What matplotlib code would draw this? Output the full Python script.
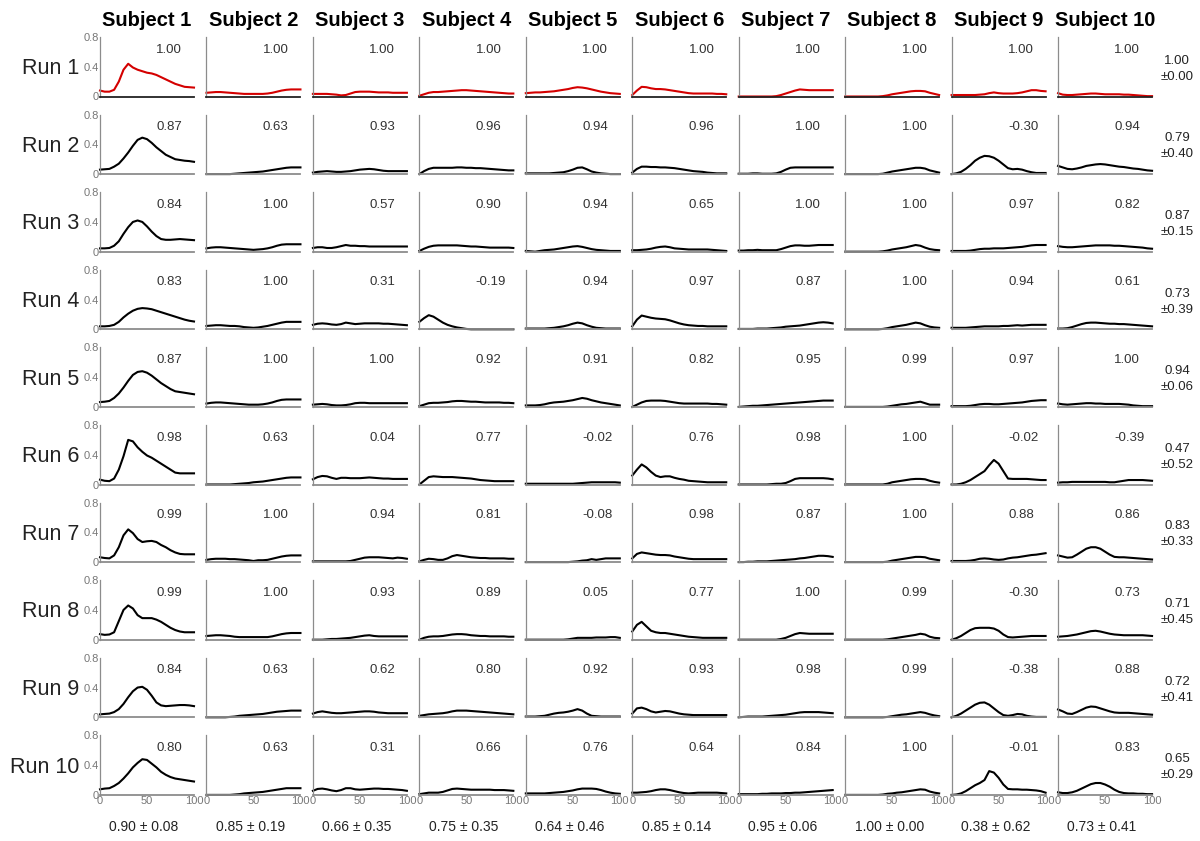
import numpy as np
import matplotlib
matplotlib.use("Agg")
import matplotlib.pyplot as plt

plt.rcParams["font.family"] = ["Liberation Sans", "DejaVu Sans"]

subjects = [f"Subject {i}" for i in range(1, 11)]
runs = [f"Run {i}" for i in range(1, 11)]
x = np.arange(0, 101, 5)

# curves[run][subject], sampled every 5 % of the cycle
curves = [
    # Run 1
    [
        [0.08,0.065,0.065,0.09,0.2,0.36,0.44,0.39,0.36,0.34,0.32,0.31,0.29,0.26,0.23,0.2,0.17,0.15,0.13,0.125,0.12],
        [0.05,0.055,0.06,0.06,0.055,0.05,0.045,0.04,0.035,0.035,0.035,0.035,0.035,0.04,0.05,0.065,0.08,0.09,0.095,0.095,0.095],
        [0.035,0.035,0.035,0.035,0.03,0.025,0.015,0.02,0.04,0.06,0.065,0.065,0.065,0.06,0.055,0.055,0.055,0.05,0.05,0.05,0.05],
        [0.01,0.03,0.05,0.06,0.06,0.065,0.07,0.075,0.08,0.085,0.085,0.08,0.075,0.07,0.065,0.06,0.055,0.05,0.045,0.04,0.04],
        [0.045,0.05,0.055,0.055,0.06,0.065,0.07,0.08,0.09,0.1,0.115,0.125,0.12,0.11,0.095,0.08,0.065,0.055,0.045,0.04,0.035],
        [0.02,0.08,0.13,0.125,0.11,0.1,0.1,0.095,0.085,0.075,0.065,0.055,0.045,0.04,0.04,0.04,0.04,0.04,0.035,0.035,0.03],
        [0.0,0.0,0.0,0.0,0.0,0.0,0.0,0.0,0.005,0.02,0.04,0.06,0.08,0.095,0.09,0.085,0.085,0.085,0.085,0.085,0.085],
        [0,0,0,0,0,0,0,0,0.005,0.015,0.03,0.04,0.05,0.06,0.07,0.075,0.075,0.07,0.05,0.035,0.02],
        [0.02,0.02,0.02,0.02,0.02,0.02,0.025,0.03,0.045,0.055,0.045,0.04,0.04,0.04,0.045,0.055,0.07,0.085,0.085,0.075,0.07],
        [0.045,0.025,0.02,0.02,0.025,0.03,0.035,0.04,0.04,0.035,0.03,0.03,0.03,0.03,0.025,0.025,0.02,0.015,0.01,0.005,0.005],
    ],
    # Run 2
    [
        [0.06,0.065,0.07,0.1,0.14,0.21,0.29,0.38,0.46,0.49,0.47,0.42,0.36,0.31,0.26,0.23,0.2,0.19,0.18,0.175,0.165],
        [0,0,0,0,0,0,0.005,0.01,0.015,0.02,0.025,0.03,0.035,0.045,0.055,0.065,0.075,0.085,0.09,0.09,0.09],
        [0.02,0.03,0.035,0.04,0.035,0.03,0.03,0.035,0.04,0.05,0.06,0.065,0.07,0.065,0.055,0.045,0.04,0.04,0.04,0.04,0.04],
        [0.0,0.04,0.07,0.085,0.085,0.085,0.085,0.085,0.09,0.09,0.085,0.085,0.08,0.08,0.075,0.07,0.065,0.06,0.055,0.05,0.05],
        [0.01,0.01,0.01,0.01,0.01,0.01,0.015,0.02,0.025,0.04,0.06,0.085,0.09,0.065,0.035,0.02,0.01,0.005,0.0,0.0,0.0],
        [0.02,0.07,0.1,0.1,0.095,0.095,0.09,0.09,0.085,0.08,0.07,0.06,0.05,0.04,0.035,0.03,0.02,0.015,0.01,0.01,0.01],
        [0.005,0.005,0.005,0.01,0.01,0.005,0.005,0.005,0.01,0.03,0.06,0.085,0.09,0.09,0.09,0.09,0.09,0.09,0.09,0.09,0.09],
        [0,0,0,0,0,0,0,0,0.005,0.02,0.035,0.045,0.055,0.065,0.075,0.085,0.085,0.075,0.05,0.035,0.02],
        [0.0,0.01,0.03,0.07,0.12,0.18,0.22,0.245,0.24,0.22,0.18,0.13,0.08,0.065,0.07,0.06,0.04,0.025,0.015,0.015,0.015],
        [0.11,0.09,0.07,0.065,0.075,0.09,0.11,0.12,0.13,0.135,0.13,0.12,0.11,0.1,0.095,0.085,0.075,0.07,0.06,0.05,0.045],
    ],
    # Run 3
    [
        [0.045,0.045,0.05,0.08,0.14,0.24,0.33,0.4,0.42,0.4,0.34,0.27,0.21,0.17,0.16,0.16,0.165,0.17,0.165,0.16,0.155],
        [0.045,0.055,0.06,0.06,0.055,0.05,0.045,0.04,0.035,0.03,0.025,0.03,0.035,0.045,0.06,0.08,0.095,0.1,0.1,0.1,0.1],
        [0.05,0.06,0.06,0.05,0.05,0.06,0.075,0.09,0.08,0.08,0.075,0.075,0.07,0.07,0.07,0.07,0.07,0.07,0.07,0.07,0.07],
        [0.01,0.04,0.065,0.08,0.085,0.085,0.085,0.085,0.085,0.08,0.075,0.07,0.07,0.065,0.06,0.055,0.055,0.055,0.055,0.055,0.05],
        [0.01,0.005,0.0,0.01,0.02,0.025,0.03,0.04,0.05,0.06,0.07,0.075,0.065,0.05,0.035,0.025,0.02,0.015,0.01,0.01,0.01],
        [0.02,0.02,0.025,0.03,0.04,0.055,0.065,0.07,0.06,0.045,0.04,0.035,0.03,0.03,0.03,0.03,0.03,0.025,0.02,0.015,0.01],
        [0.015,0.015,0.02,0.02,0.025,0.02,0.02,0.02,0.02,0.035,0.055,0.075,0.085,0.085,0.08,0.08,0.085,0.09,0.09,0.09,0.09],
        [0,0,0,0,0,0,0,0,0.005,0.015,0.03,0.04,0.05,0.06,0.075,0.09,0.08,0.055,0.035,0.025,0.02],
        [0.01,0.01,0.01,0.01,0.015,0.025,0.035,0.04,0.04,0.045,0.045,0.045,0.05,0.055,0.06,0.065,0.075,0.085,0.09,0.09,0.09],
        [0.075,0.065,0.06,0.06,0.065,0.07,0.075,0.08,0.085,0.085,0.085,0.085,0.08,0.08,0.075,0.07,0.065,0.06,0.055,0.045,0.04],
    ],
    # Run 4
    [
        [0.04,0.04,0.045,0.06,0.1,0.16,0.21,0.25,0.275,0.285,0.28,0.27,0.25,0.23,0.21,0.19,0.17,0.15,0.13,0.115,0.105],
        [0.045,0.05,0.055,0.055,0.05,0.045,0.045,0.04,0.03,0.025,0.02,0.025,0.035,0.045,0.06,0.075,0.09,0.1,0.1,0.1,0.1],
        [0.06,0.075,0.08,0.075,0.065,0.06,0.07,0.09,0.08,0.07,0.075,0.08,0.08,0.08,0.08,0.075,0.075,0.07,0.065,0.06,0.055],
        [0.1,0.15,0.19,0.17,0.13,0.09,0.06,0.04,0.025,0.015,0.005,0.0,0.0,0.0,0.0,0.0,0.0,0.0,0.0,0.0,0.0],
        [0.01,0.01,0.01,0.01,0.01,0.015,0.02,0.03,0.04,0.055,0.075,0.09,0.08,0.055,0.035,0.02,0.015,0.01,0.01,0.01,0.01],
        [0.04,0.13,0.185,0.17,0.155,0.145,0.14,0.135,0.12,0.1,0.08,0.065,0.055,0.05,0.045,0.045,0.04,0.04,0.04,0.04,0.04],
        [0.005,0.005,0.005,0.005,0.01,0.01,0.01,0.015,0.02,0.025,0.035,0.04,0.045,0.05,0.06,0.07,0.08,0.09,0.095,0.09,0.08],
        [0,0,0,0,0,0,0,0,0.005,0.015,0.03,0.04,0.05,0.06,0.075,0.09,0.08,0.055,0.035,0.025,0.02],
        [0.02,0.02,0.02,0.02,0.025,0.03,0.035,0.04,0.04,0.04,0.04,0.045,0.045,0.05,0.055,0.05,0.055,0.06,0.06,0.06,0.06],
        [0.01,0.01,0.015,0.03,0.05,0.07,0.085,0.09,0.09,0.085,0.08,0.075,0.075,0.07,0.07,0.065,0.06,0.055,0.05,0.045,0.04],
    ],
    # Run 5
    [
        [0.065,0.07,0.08,0.12,0.18,0.26,0.35,0.43,0.47,0.48,0.46,0.42,0.37,0.32,0.28,0.24,0.21,0.2,0.19,0.18,0.17],
        [0.045,0.055,0.06,0.06,0.055,0.05,0.045,0.04,0.035,0.03,0.03,0.03,0.035,0.045,0.06,0.08,0.095,0.1,0.1,0.1,0.1],
        [0.03,0.035,0.04,0.035,0.025,0.02,0.02,0.025,0.035,0.05,0.055,0.055,0.05,0.05,0.05,0.05,0.05,0.05,0.05,0.05,0.05],
        [0.01,0.03,0.05,0.055,0.055,0.06,0.065,0.075,0.08,0.08,0.075,0.07,0.07,0.065,0.06,0.06,0.06,0.06,0.055,0.055,0.05],
        [0.02,0.02,0.02,0.025,0.035,0.05,0.06,0.065,0.07,0.08,0.09,0.105,0.12,0.11,0.09,0.075,0.06,0.05,0.04,0.03,0.02],
        [0.0,0.03,0.06,0.08,0.085,0.085,0.085,0.08,0.07,0.06,0.05,0.045,0.045,0.045,0.045,0.045,0.045,0.04,0.04,0.035,0.03],
        [0.0,0.005,0.01,0.015,0.015,0.02,0.025,0.03,0.035,0.04,0.045,0.05,0.055,0.06,0.065,0.07,0.075,0.08,0.085,0.085,0.085],
        [0,0,0,0,0,0,0,0,0,0.005,0.015,0.025,0.035,0.04,0.05,0.06,0.07,0.05,0.03,0.03,0.03],
        [0.01,0.01,0.01,0.01,0.015,0.025,0.035,0.04,0.04,0.035,0.035,0.04,0.045,0.05,0.055,0.06,0.07,0.08,0.085,0.09,0.09],
        [0.045,0.035,0.03,0.035,0.04,0.045,0.05,0.05,0.045,0.045,0.04,0.04,0.04,0.04,0.035,0.03,0.02,0.015,0.01,0.01,0.01],
    ],
    # Run 6
    [
        [0.065,0.05,0.045,0.08,0.2,0.38,0.6,0.58,0.5,0.44,0.39,0.36,0.32,0.28,0.24,0.2,0.16,0.15,0.15,0.15,0.15],
        [0,0,0,0,0,0,0.005,0.01,0.015,0.02,0.03,0.035,0.04,0.05,0.06,0.07,0.08,0.09,0.095,0.095,0.095],
        [0.07,0.1,0.115,0.11,0.09,0.075,0.09,0.09,0.085,0.085,0.085,0.09,0.095,0.09,0.085,0.08,0.08,0.075,0.075,0.075,0.075],
        [0.0,0.05,0.1,0.11,0.105,0.1,0.1,0.1,0.095,0.09,0.085,0.08,0.07,0.06,0.055,0.05,0.045,0.045,0.045,0.045,0.045],
        [0.01,0.01,0.01,0.01,0.01,0.01,0.01,0.01,0.01,0.01,0.01,0.015,0.02,0.025,0.03,0.03,0.03,0.03,0.03,0.03,0.025],
        [0.12,0.2,0.27,0.23,0.17,0.12,0.1,0.11,0.11,0.09,0.075,0.065,0.05,0.045,0.04,0.035,0.03,0.03,0.03,0.03,0.03],
        [0,0,0,0,0,0,0,0.005,0.01,0.01,0.02,0.045,0.075,0.085,0.085,0.085,0.085,0.085,0.085,0.08,0.07],
        [0,0,0,0,0,0,0,0,0,0.01,0.03,0.04,0.05,0.06,0.07,0.075,0.075,0.07,0.05,0.035,0.025],
        [0.0,0.0,0.01,0.03,0.06,0.1,0.14,0.18,0.26,0.33,0.28,0.18,0.08,0.075,0.075,0.075,0.075,0.07,0.065,0.06,0.06],
        [0.025,0.03,0.03,0.035,0.035,0.035,0.035,0.035,0.035,0.035,0.035,0.03,0.03,0.04,0.05,0.06,0.06,0.06,0.06,0.055,0.05],
    ],
    # Run 7
    [
        [0.065,0.055,0.05,0.09,0.2,0.36,0.44,0.39,0.31,0.27,0.28,0.285,0.27,0.23,0.2,0.16,0.13,0.11,0.105,0.105,0.105],
        [0.03,0.04,0.045,0.045,0.045,0.04,0.04,0.035,0.03,0.025,0.015,0.025,0.025,0.03,0.045,0.06,0.075,0.085,0.09,0.09,0.09],
        [0.01,0.01,0.01,0.01,0.01,0.01,0.01,0.01,0.015,0.03,0.045,0.06,0.065,0.065,0.065,0.06,0.055,0.05,0.06,0.055,0.045],
        [0.01,0.03,0.045,0.04,0.03,0.03,0.05,0.08,0.095,0.085,0.075,0.065,0.06,0.055,0.055,0.05,0.05,0.05,0.05,0.045,0.045],
        [0,0,0,0,0,0,0,0,0,0,0.005,0.01,0.02,0.025,0.04,0.03,0.04,0.05,0.05,0.05,0.05],
        [0.05,0.11,0.13,0.12,0.11,0.1,0.095,0.095,0.09,0.075,0.065,0.055,0.045,0.04,0.04,0.04,0.04,0.04,0.04,0.04,0.04],
        [0.0,0.0,0.005,0.005,0.01,0.01,0.01,0.015,0.02,0.025,0.03,0.035,0.04,0.05,0.055,0.065,0.075,0.085,0.085,0.08,0.07],
        [0,0,0,0,0,0,0,0,0,0.005,0.02,0.03,0.04,0.05,0.06,0.07,0.07,0.065,0.045,0.035,0.025],
        [0.015,0.015,0.015,0.015,0.02,0.03,0.045,0.05,0.045,0.035,0.03,0.035,0.05,0.06,0.065,0.075,0.085,0.095,0.1,0.11,0.12],
        [0.09,0.075,0.06,0.065,0.1,0.14,0.18,0.2,0.2,0.18,0.14,0.1,0.07,0.065,0.065,0.06,0.055,0.05,0.045,0.04,0.035],
    ],
    # Run 8
    [
        [0.075,0.065,0.07,0.1,0.25,0.4,0.46,0.42,0.33,0.29,0.29,0.29,0.27,0.24,0.2,0.16,0.13,0.11,0.1,0.1,0.1],
        [0.05,0.055,0.06,0.06,0.055,0.05,0.04,0.035,0.035,0.035,0.035,0.035,0.035,0.035,0.045,0.06,0.075,0.085,0.09,0.09,0.09],
        [0.0,0.0,0.0,0.005,0.01,0.01,0.015,0.02,0.025,0.035,0.045,0.055,0.06,0.05,0.045,0.045,0.045,0.045,0.045,0.045,0.045],
        [0.0,0.025,0.04,0.045,0.045,0.05,0.06,0.07,0.075,0.075,0.07,0.06,0.055,0.05,0.05,0.045,0.045,0.045,0.045,0.04,0.04],
        [0,0,0,0,0,0,0,0,0,0.005,0.015,0.025,0.025,0.025,0.025,0.03,0.03,0.03,0.035,0.035,0.025],
        [0.11,0.2,0.24,0.18,0.12,0.1,0.09,0.09,0.08,0.07,0.06,0.05,0.04,0.035,0.03,0.025,0.025,0.025,0.025,0.025,0.025],
        [0,0,0,0,0,0,0,0,0,0.01,0.025,0.05,0.075,0.09,0.085,0.08,0.08,0.08,0.08,0.08,0.08],
        [0,0,0,0,0,0,0,0,0,0.005,0.015,0.025,0.035,0.045,0.055,0.065,0.08,0.07,0.04,0.025,0.02],
        [0.0,0.02,0.05,0.09,0.13,0.155,0.16,0.16,0.16,0.15,0.12,0.07,0.035,0.03,0.035,0.04,0.045,0.05,0.05,0.05,0.05],
        [0.04,0.045,0.05,0.06,0.07,0.085,0.1,0.115,0.12,0.11,0.095,0.08,0.07,0.065,0.06,0.06,0.06,0.06,0.06,0.055,0.05],
    ],
    # Run 9
    [
        [0.04,0.045,0.05,0.07,0.11,0.18,0.27,0.35,0.4,0.41,0.37,0.29,0.2,0.16,0.15,0.155,0.16,0.165,0.165,0.16,0.15],
        [0,0,0,0,0,0.005,0.01,0.02,0.025,0.03,0.035,0.04,0.045,0.055,0.065,0.075,0.08,0.085,0.09,0.09,0.09],
        [0.05,0.07,0.08,0.07,0.06,0.055,0.055,0.06,0.065,0.07,0.075,0.08,0.08,0.075,0.065,0.06,0.055,0.055,0.055,0.055,0.055],
        [0.02,0.03,0.04,0.045,0.05,0.055,0.065,0.08,0.09,0.09,0.09,0.085,0.08,0.075,0.07,0.065,0.06,0.055,0.05,0.045,0.04],
        [0.01,0.01,0.01,0.015,0.02,0.035,0.05,0.06,0.065,0.075,0.09,0.11,0.09,0.05,0.02,0.015,0.01,0.01,0.01,0.01,0.01],
        [0.05,0.12,0.13,0.11,0.08,0.065,0.075,0.085,0.08,0.065,0.05,0.04,0.035,0.03,0.03,0.03,0.03,0.03,0.03,0.03,0.03],
        [0.0,0.005,0.01,0.01,0.01,0.01,0.015,0.02,0.025,0.03,0.035,0.045,0.055,0.065,0.07,0.07,0.07,0.07,0.065,0.06,0.055],
        [0,0,0,0,0,0,0,0,0,0.005,0.015,0.025,0.035,0.04,0.05,0.06,0.07,0.06,0.04,0.025,0.015],
        [0.0,0.02,0.05,0.09,0.13,0.17,0.195,0.2,0.17,0.12,0.07,0.03,0.02,0.03,0.045,0.04,0.02,0.01,0.005,0.005,0.005],
        [0.105,0.08,0.05,0.045,0.07,0.1,0.13,0.145,0.14,0.12,0.1,0.08,0.065,0.06,0.06,0.06,0.055,0.05,0.045,0.04,0.035],
    ],
    # Run 10
    [
        [0.075,0.085,0.09,0.12,0.16,0.22,0.29,0.37,0.43,0.48,0.47,0.42,0.37,0.31,0.27,0.24,0.22,0.21,0.2,0.19,0.18],
        [0,0,0,0,0,0,0.005,0.01,0.02,0.025,0.03,0.035,0.04,0.05,0.06,0.07,0.08,0.09,0.09,0.09,0.09],
        [0.055,0.08,0.085,0.075,0.06,0.05,0.065,0.09,0.09,0.075,0.07,0.075,0.08,0.085,0.085,0.08,0.08,0.075,0.07,0.065,0.055],
        [0.01,0.02,0.03,0.03,0.03,0.04,0.06,0.08,0.085,0.08,0.075,0.07,0.07,0.07,0.07,0.07,0.065,0.065,0.065,0.06,0.055],
        [0.02,0.02,0.02,0.02,0.02,0.025,0.03,0.035,0.04,0.05,0.06,0.075,0.085,0.085,0.085,0.08,0.065,0.045,0.03,0.02,0.015],
        [0.03,0.03,0.035,0.04,0.05,0.065,0.075,0.075,0.065,0.05,0.035,0.025,0.02,0.025,0.03,0.03,0.03,0.03,0.03,0.025,0.02],
        [0.01,0.01,0.01,0.01,0.01,0.015,0.015,0.02,0.02,0.02,0.025,0.025,0.03,0.03,0.035,0.04,0.045,0.05,0.055,0.06,0.065],
        [0,0,0,0,0,0,0,0,0.005,0.015,0.02,0.03,0.035,0.045,0.055,0.065,0.075,0.07,0.045,0.03,0.02],
        [0.0,0.005,0.02,0.05,0.09,0.13,0.16,0.2,0.32,0.3,0.23,0.14,0.08,0.075,0.075,0.07,0.07,0.065,0.06,0.05,0.03],
        [0.035,0.025,0.025,0.035,0.055,0.085,0.115,0.145,0.16,0.16,0.14,0.11,0.07,0.04,0.025,0.02,0.02,0.015,0.015,0.01,0.01],
    ],
]

# correlation of each run with run 1, per subject
r_values = [
    [1.00, 1.00, 1.00, 1.00, 1.00, 1.00, 1.00, 1.00, 1.00, 1.00],
    [0.87, 0.63, 0.93, 0.96, 0.94, 0.96, 1.00, 1.00, -0.30, 0.94],
    [0.84, 1.00, 0.57, 0.90, 0.94, 0.65, 1.00, 1.00, 0.97, 0.82],
    [0.83, 1.00, 0.31, -0.19, 0.94, 0.97, 0.87, 1.00, 0.94, 0.61],
    [0.87, 1.00, 1.00, 0.92, 0.91, 0.82, 0.95, 0.99, 0.97, 1.00],
    [0.98, 0.63, 0.04, 0.77, -0.02, 0.76, 0.98, 1.00, -0.02, -0.39],
    [0.99, 1.00, 0.94, 0.81, -0.08, 0.98, 0.87, 1.00, 0.88, 0.86],
    [0.99, 1.00, 0.93, 0.89, 0.05, 0.77, 1.00, 0.99, -0.30, 0.73],
    [0.84, 0.63, 0.62, 0.80, 0.92, 0.93, 0.98, 0.99, -0.38, 0.88],
    [0.80, 0.63, 0.31, 0.66, 0.76, 0.64, 0.84, 1.00, -0.01, 0.83],
]

run_mean = [1.00, 0.79, 0.87, 0.73, 0.94, 0.47, 0.83, 0.71, 0.72, 0.65]
run_std = [0.00, 0.40, 0.15, 0.39, 0.06, 0.52, 0.33, 0.45, 0.41, 0.29]
subj_mean = [0.90, 0.85, 0.66, 0.75, 0.64, 0.85, 0.95, 1.00, 0.38, 0.73]
subj_std = [0.08, 0.19, 0.35, 0.35, 0.46, 0.14, 0.06, 0.00, 0.62, 0.41]

yticks = [0, 0.4, 0.8]
yticklabels = ["0", "0.4", "0.8"]
xticks = [0, 50, 100]
xticklabels = ["0", "50", "100"]

W, H = 1200, 841
fig = plt.figure(figsize=(W / 100, H / 100), dpi=100)

ax_w, ax_h = 94, 59.5
x0, dx = 100, 106.45
y0, dy = 37, 77.6

for i in range(10):
    for j in range(10):
        left = x0 + j * dx
        top = y0 + i * dy
        ax = fig.add_axes([left / W, 1 - (top + ax_h) / H, ax_w / W, ax_h / H])
        color = "#d40000" if i == 0 else "black"
        ax.plot(x, curves[i][j], color=color, lw=1.5, clip_on=False)
        ax.set_xlim(0, 100)
        ax.set_ylim(0, 0.8)
        for s in ("top", "right"):
            ax.spines[s].set_visible(False)
        ax.spines["left"].set_color("#8c8c8c")
        ax.spines["left"].set_linewidth(0.9)
        ax.spines["bottom"].set_color("#222222" if i == 0 else "#8c8c8c")
        ax.spines["bottom"].set_linewidth(1.3)
        ax.tick_params(length=0, labelsize=8, colors="#777777", pad=1)
        ax.set_yticks(yticks)
        ax.set_xticks(xticks)
        if j == 0:
            ax.set_yticklabels(yticklabels)
        else:
            ax.set_yticklabels([])
        if i == 9:
            ax.set_xticklabels(xticklabels)
        else:
            ax.set_xticklabels([])
        ax.text(60, 0.63, f"{r_values[i][j]:.2f}", fontsize=9.5, color="#333333",
                ha="left", va="center")

# column headers and bottom summaries
for j in range(10):
    cx = (x0 + j * dx + ax_w / 2) / W
    fig.text(cx, 1 - 20 / H, subjects[j], fontsize=14.5, fontweight="bold",
             ha="center", va="center", color="black")
    fig.text(cx - 3 / W, 1 - 827 / H, f"{subj_mean[j]:.2f} \u00b1 {subj_std[j]:.2f}",
             fontsize=10, ha="center", va="center", color="#222222")

# row labels and right-hand summaries
for i in range(10):
    cy = 1 - (y0 + i * dy + ax_h / 2 + 2) / H
    fig.text(79 / W, cy, runs[i], fontsize=15.5, ha="right", va="center", color="#222222")
    fig.text(1177 / W, cy, f"{run_mean[i]:.2f}\n\u00b1{run_std[i]:.2f}", fontsize=9.5,
             ha="center", va="center", color="#222222", linespacing=1.45)

fig.savefig("out.png", dpi=100, facecolor="white")
